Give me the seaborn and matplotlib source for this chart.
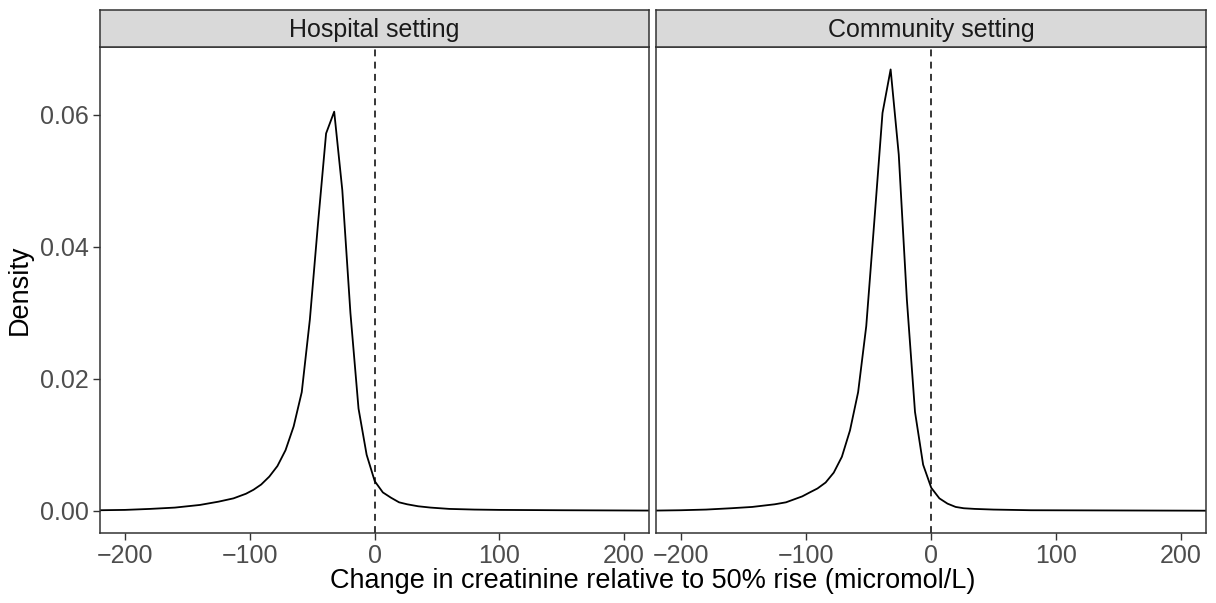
import matplotlib
matplotlib.use("Agg")
import matplotlib.pyplot as plt
import seaborn as sns
import pandas as pd

# density curves (x in micromol/L, y = density)
hospital_x = [-230, -220, -200, -180, -160, -140, -125, -113, -103, -97,
              -90.8, -84.3, -77.8, -71.3, -64.8, -58.3, -51.8, -45.3, -38.8,
              -32.3, -25.8, -19.3, -12.8, -6.3, 0.2, 6.7, 13.2, 19.7, 26.2,
              35, 45, 60, 80, 100, 150, 220, 230]
hospital_y = [0.00008, 0.0001, 0.00015, 0.0003, 0.0005, 0.0009, 0.0014, 0.0019, 0.0026, 0.0032,
              0.0040, 0.0052, 0.0068, 0.0092, 0.0128, 0.0180, 0.0290, 0.0435, 0.0572,
              0.0605, 0.0486, 0.0300, 0.0155, 0.0085, 0.0045, 0.0028, 0.0020, 0.0013, 0.0010,
              0.0007, 0.0005, 0.0003, 0.0002, 0.00015, 0.0001, 0.00005, 0.00004]

community_x = [-230, -220, -200, -180, -160, -143, -125, -116, -103, -97,
               -90.8, -84.3, -77.8, -71.3, -64.8, -58.3, -51.8, -45.3, -38.8,
               -32.3, -25.8, -19.3, -12.8, -6.3, 0.2, 6.7, 13.2, 19.7, 26.2,
               35, 50, 80, 120, 220, 230]
community_y = [0.00004, 0.00005, 0.0001, 0.0002, 0.0004, 0.0006, 0.0010, 0.0013, 0.0022, 0.0028,
               0.0034, 0.0043, 0.0058, 0.0082, 0.0122, 0.0180, 0.0280, 0.0440, 0.0603,
               0.0669, 0.0540, 0.0320, 0.0150, 0.0070, 0.0035, 0.0019, 0.0011, 0.0006, 0.0004,
               0.0003, 0.0002, 0.0001, 0.00008, 0.00003, 0.00003]

settings = ["Hospital setting", "Community setting"]
x_ticks = [-200, -100, 0, 100, 200]
y_ticks = [0.00, 0.02, 0.04, 0.06]

df = pd.concat([
    pd.DataFrame({"change": hospital_x, "density": hospital_y, "setting": settings[0]}),
    pd.DataFrame({"change": community_x, "density": community_y, "setting": settings[1]}),
])

sns.set_theme(style="white")
plt.rcParams["font.family"] = ["Liberation Sans", "DejaVu Sans"]

fig = plt.figure(figsize=(12.16, 6.03), dpi=100)

W, H = 1216, 603
panels = [(100, 649), (656, 1206)]
top, bottom, strip_top = 47, 533, 10
border = "#333333"

for i, (name, (x0, x1)) in enumerate(zip(settings, panels)):
    ax = fig.add_axes([x0 / W, (H - bottom) / H, (x1 - x0) / W, (bottom - top) / H])
    sub = df[df["setting"] == name]
    sns.lineplot(data=sub, x="change", y="density", ax=ax, color="black",
                 linewidth=1.3, sort=False, estimator=None)
    ax.axvline(0, color="black", linestyle=(0, (4.5, 3.5)), linewidth=1.1)
    ax.set_xlim(-220, 220)
    ax.set_ylim(-0.00335, 0.0703)
    ax.set_xticks(x_ticks)
    ax.set_yticks(y_ticks)
    ax.set_yticklabels([f"{v:.2f}" for v in y_ticks])
    ax.tick_params(axis="both", direction="out", length=5, width=1, color=border,
                   labelsize=18, labelcolor="#4D4D4D", pad=3,
                   bottom=True, left=True)
    if i > 0:
        ax.tick_params(axis="y", left=False, labelleft=False)
    for s in ax.spines.values():
        s.set_color(border)
        s.set_linewidth(1.1)
    ax.set_xlabel("")
    ax.set_ylabel("Density" if i == 0 else "", fontsize=19.5, color="black", labelpad=5)

    # facet strip
    sax = fig.add_axes([x0 / W, (H - top) / H, (x1 - x0) / W, (top - strip_top) / H])
    sax.set_facecolor("#D9D9D9")
    sax.set_xticks([])
    sax.set_yticks([])
    for s in sax.spines.values():
        s.set_color(border)
        s.set_linewidth(1.1)
    sax.text(0.5, 0.47, name, transform=sax.transAxes, ha="center", va="center",
             fontsize=18, color="#1A1A1A")

fig.text((100 + 1206) / 2 / W, 9 / H, "Change in creatinine relative to 50% rise (micromol/L)",
         ha="center", va="bottom", fontsize=19.5, color="black")

fig.savefig("out.png", dpi=100)
